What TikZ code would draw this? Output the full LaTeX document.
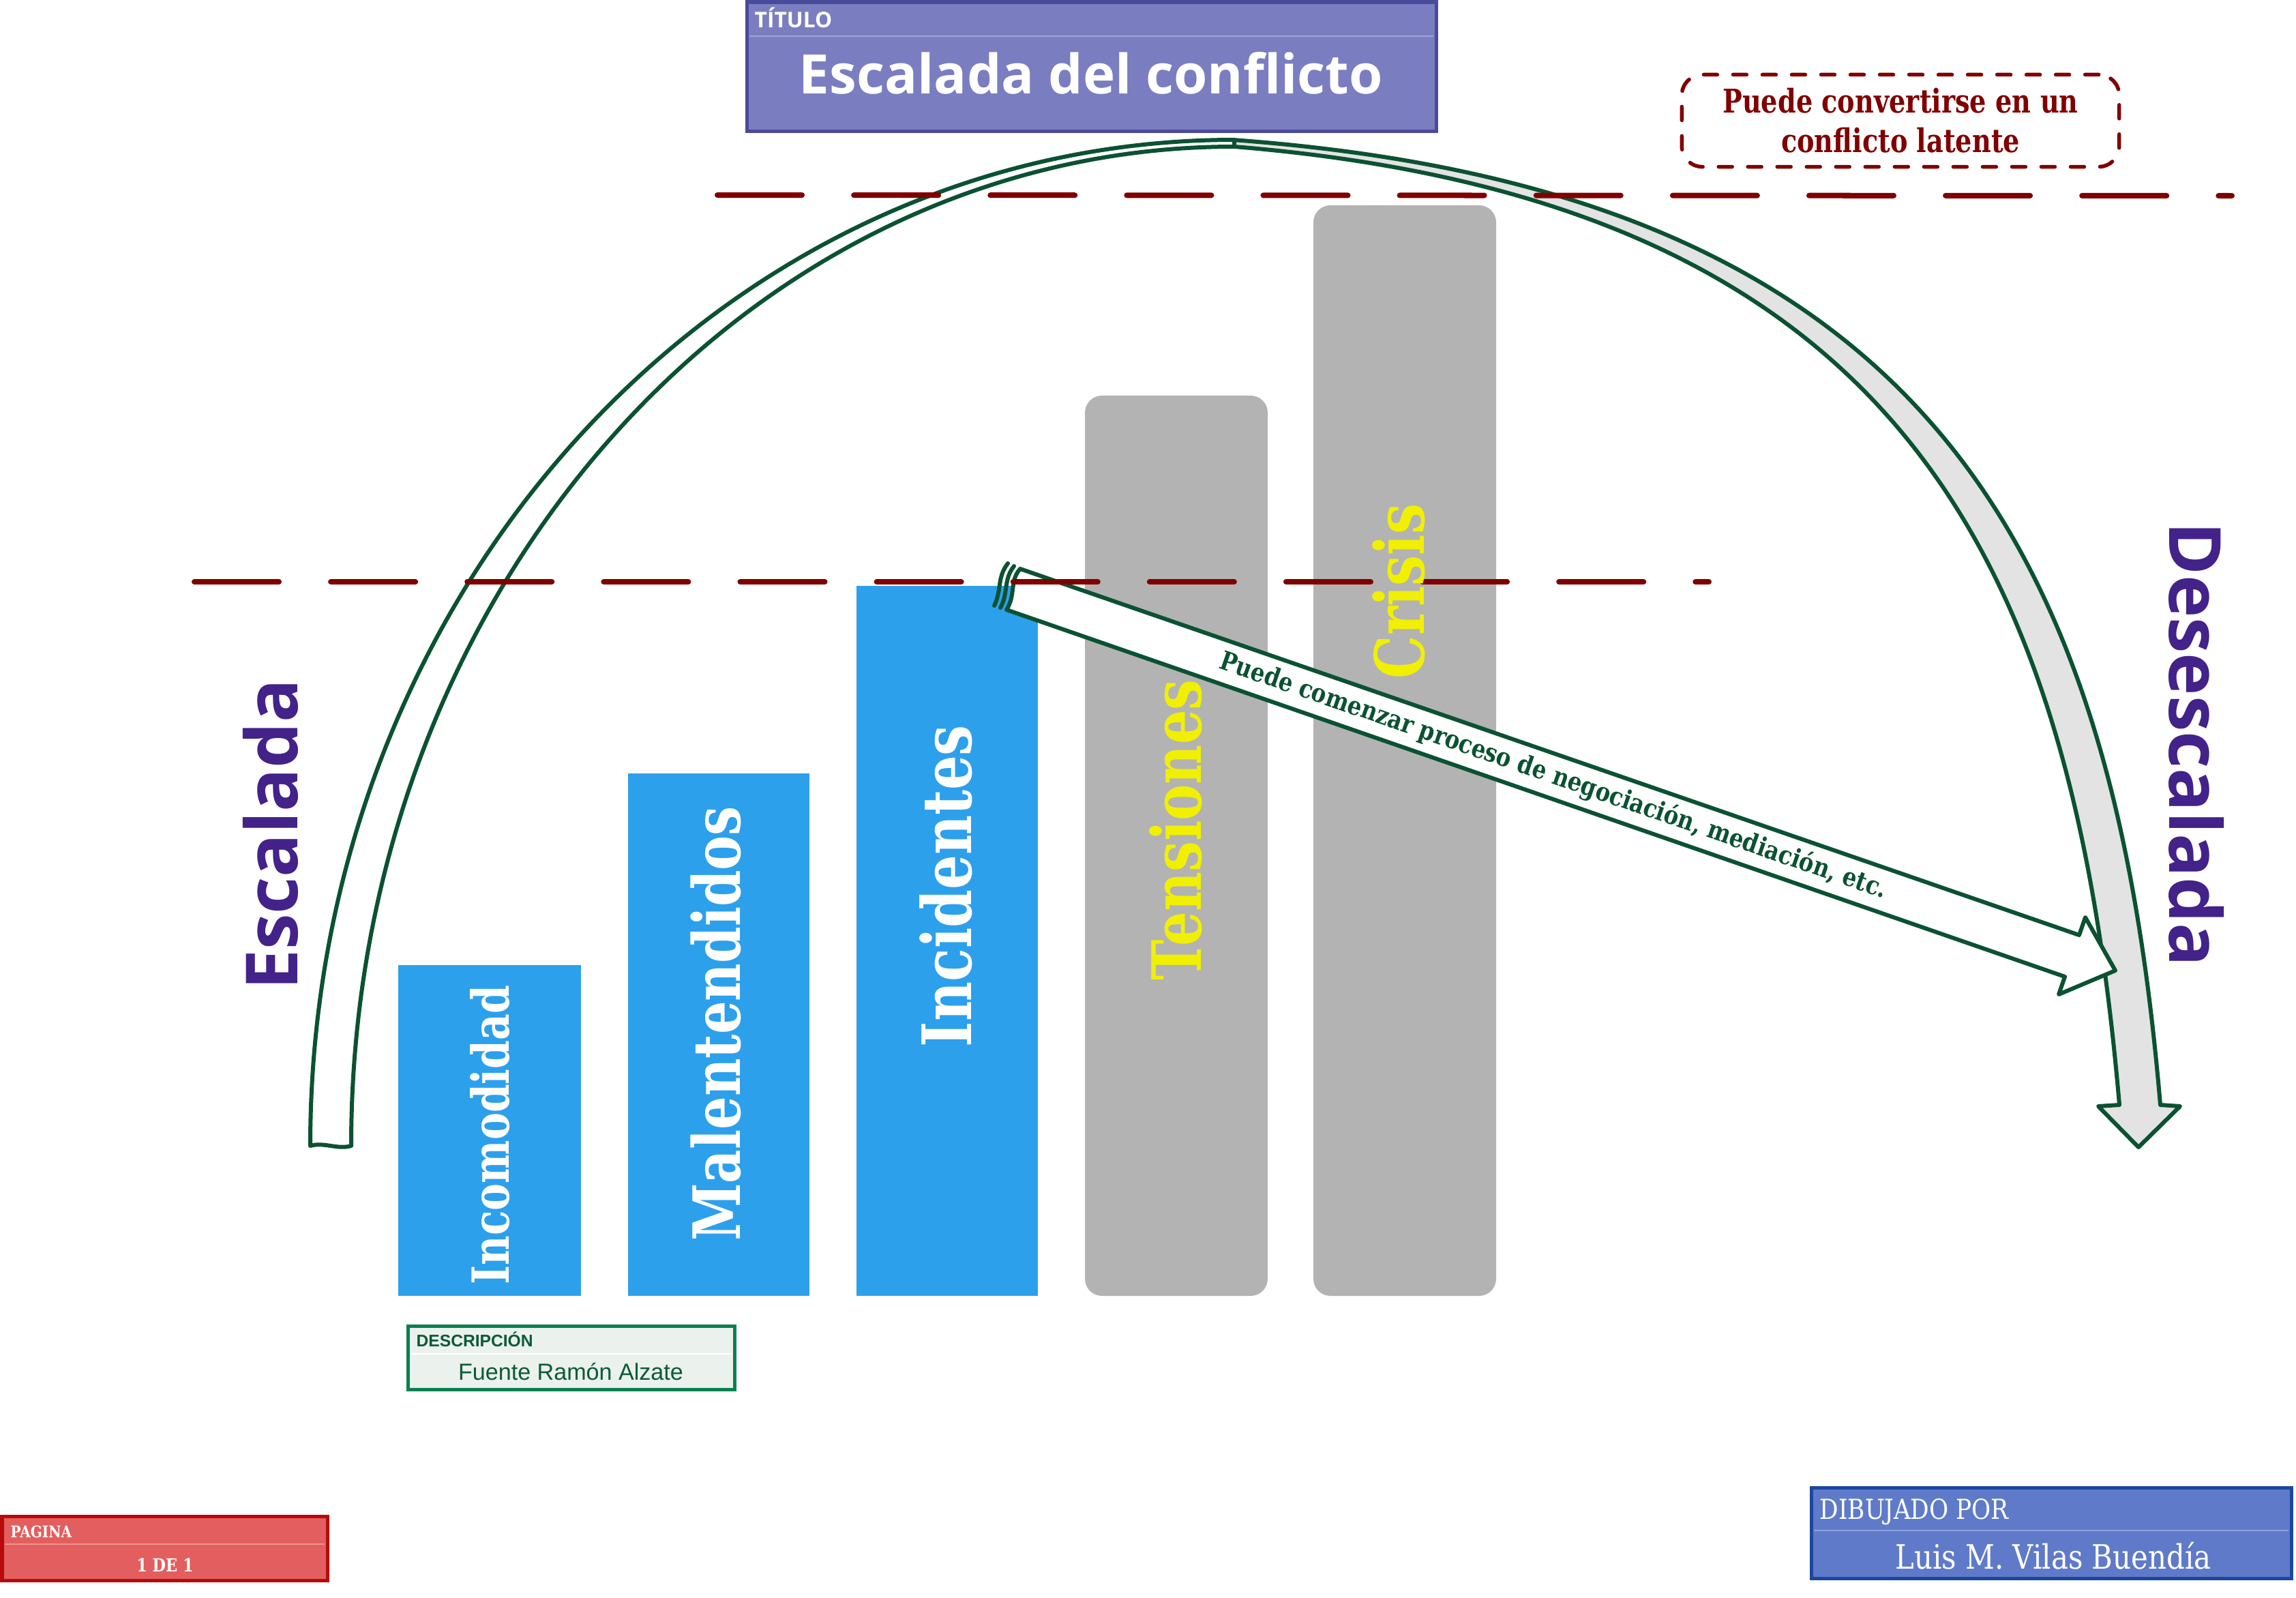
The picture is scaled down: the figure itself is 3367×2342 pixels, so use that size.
\documentclass[tikz,border=0pt]{standalone}
\usepackage{fontspec}
\setmainfont{DejaVu Serif}
\newfontfamily\osans{Open Sans}
\newfontfamily\slab{DejaVu Serif}
\newfontfamily\slabc[FakeStretch=0.85]{DejaVu Serif}
\newfontfamily\slabn[FakeStretch=0.8]{DejaVu Serif}
\newfontfamily\lsans{Liberation Sans}
\definecolor{cBlue}{HTML}{2DA0EC}
\definecolor{cGray}{HTML}{B3B3B3}
\definecolor{cLgray}{HTML}{E3E3E3}
\definecolor{cGreen}{HTML}{0B5232}
\definecolor{cRed}{HTML}{800000}
\definecolor{cYellow}{HTML}{F0F000}
\definecolor{cPurple}{HTML}{43228A}
\definecolor{cTitle}{HTML}{7A7EC0}
\definecolor{cTitleB}{HTML}{4A4A9A}
\definecolor{cTitleL}{HTML}{A0A4D6}
\definecolor{cDraw}{HTML}{5F7AC9}
\definecolor{cDrawB}{HTML}{1A47A0}
\definecolor{cDrawL}{HTML}{8FA2DC}
\definecolor{cPag}{HTML}{E35E5E}
\definecolor{cPagB}{HTML}{B80A0A}
\definecolor{cPagL}{HTML}{EE9090}
\definecolor{cDesc}{HTML}{EBF1EC}
\definecolor{cDescB}{HTML}{0B8050}
\definecolor{cDescT}{HTML}{0B5A38}
\tikzset{
  bluebar/.style={fill=cBlue},
  graybar/.style={fill=cGray, rounded corners=0.25cm},
  greenline/.style={draw=cGreen, line width=0.06cm, line join=round, line cap=round},
  reddash/.style={draw=cRed, line width=0.08cm, line cap=round, dash pattern=on 1.24cm off 0.76cm},
  barlabel/.style={rotate=90, inner sep=0},
  headtext/.style={inner sep=0, text=white},
}
\begin{document}
\begin{tikzpicture}[x=0.01cm,y=-0.01cm]
\useasboundingbox (0,0) rectangle (3367,2342);
\fill[white] (0,0) rectangle (3367,2342);

% bars
\fill[bluebar] (584,1415) rectangle (852,1900);
\fill[bluebar] (921,1134) rectangle (1187,1900);
\fill[bluebar] (1256,859) rectangle (1522,1900);
\fill[graybar] (1591,580) rectangle (1859,1900);
\fill[graybar] (1926,301) rectangle (2194,1900);

% de-escalation band (grey)
\filldraw[fill=cLgray, greenline] (1807,205) .. controls (2840,280) and (3100,820) .. (3168,1620)
  -- (3197,1622) -- (3136,1682) -- (3077,1622) -- (3108,1620)
  .. controls (3040,835) and (2800,296) .. (1810,215) -- cycle;

% escalation band (white)
\filldraw[fill=white, greenline] (455,1680) arc[start angle=180, end angle=270, x radius=1355, y radius=1475]
  -- (1810,215) arc[start angle=270, end angle=180, x radius=1295, y radius=1465]
  .. controls (495,1686) and (475,1674) .. cycle;

% straight arrow
\filldraw[fill=white, greenline] (1496,834) -- (3049,1371) -- (3058,1345) -- (3102,1423)
  -- (3019,1458) -- (3028,1432) -- (1476,894)
  .. controls (1490,872) and (1480,852) .. cycle;
\draw[greenline] (1467,891) .. controls (1479,870) and (1471,850) .. (1487,830);
\draw[greenline] (1458,888) .. controls (1469,866) and (1462,846) .. (1478,826);

% dashed lines
\draw[reddash] (1052,286) -- (3273,287);
\draw[reddash] (285,853) -- (2506,853);

% bar labels
\node[barlabel, text=white, font=\slabn\bfseries\fontsize{21.3}{21}\selectfont] (incomodidad) at (719,1664) {Incomodidad};
\node[barlabel, text=white, font=\slabn\bfseries\fontsize{27.2}{27}\selectfont] (malentendidos) at (1050,1501) {Malentendidos};
\node[barlabel, text=white, font=\slabn\bfseries\fontsize{28.4}{28}\selectfont] (incidentes) at (1387,1299) {Incidentes};
\node[barlabel, text=cYellow, font=\slabn\bfseries\fontsize{28.4}{28}\selectfont] (tensiones) at (1724,1217) {Tensiones};
\node[barlabel, text=cYellow, font=\slabn\bfseries\fontsize{28.4}{28}\selectfont] (crisis) at (2051,867) {Crisis};

% side labels
\node[rotate=90, inner sep=0, text=cPurple, font=\osans\bfseries\fontsize{30}{30}\selectfont] (escalada) at (397,1224) {Escalada};
\node[rotate=-90, inner sep=0, text=cPurple, font=\osans\bfseries\fontsize{30}{30}\selectfont] (desescalada) at (3221,1091) {Desescalada};

% arrow text
\node[rotate=-19.1, inner sep=0, text=cGreen, font=\slabc\bfseries\fontsize{10.8}{10}\selectfont] (negociacion) at (2278,1138) {Puede comenzar proceso de negociación, mediación, etc.};

% latent box
\node[draw=cRed, line width=0.055cm, dash pattern=on 0.2cm off 0.23cm, line cap=round, rounded corners=0.3cm,
  minimum width=6.41cm, minimum height=1.35cm, align=center, text=cRed,
  font=\slabn\bfseries\fontsize{13.6}{16.5}\selectfont] (latent) at (2787,177) {Puede convertirse en un\\conflicto latente};

% title box
\filldraw[fill=cTitle, draw=cTitleB, line width=0.05cm] (1095,3) rectangle (2106,192);
\draw[cTitleL, line width=0.012cm] (1099,53) -- (2102,53);
\node[headtext, anchor=base west, font=\osans\bfseries\fontsize{9}{10}\selectfont] (titlehead) at (1106,40) {TÍTULO};
\node[headtext, anchor=base, font=\osans\bfseries\fontsize{22.7}{27}\selectfont] (title) at (1600,137) {Escalada del conflicto};

% description box
\filldraw[fill=cDesc, draw=cDescB, line width=0.05cm] (598,1944) rectangle (1077,2037);
\draw[white, line width=0.012cm] (602,1985) -- (1073,1985);
\node[inner sep=0, anchor=base west, text=cDescT, font=\lsans\bfseries\fontsize{7}{8}\selectfont] (deschead) at (610,1974) {DESCRIPCIÓN};
\node[inner sep=0, anchor=base, text=cDescT, font=\lsans\fontsize{9.7}{11}\selectfont] (desc) at (837,2023) {Fuente Ramón Alzate};

% page box
\filldraw[fill=cPag, draw=cPagB, line width=0.05cm] (3,2223) rectangle (480,2317);
\draw[cPagL, line width=0.012cm] (7,2264) -- (476,2264);
\node[headtext, anchor=base west, font=\slabc\bfseries\fontsize{6.7}{8}\selectfont] (paghead) at (15,2254) {PAGINA};
\node[headtext, anchor=base, font=\slabc\bfseries\fontsize{7.5}{9}\selectfont] (pag) at (242,2304) {1 DE 1};

% drawn-by box
\filldraw[fill=cDraw, draw=cDrawB, line width=0.05cm] (2656,2181) rectangle (3360,2314);
\draw[cDrawL, line width=0.012cm] (2660,2244) -- (3356,2244);
\node[headtext, anchor=base west, font=\slabc\fontsize{11.5}{12}\selectfont] (drawhead) at (2668,2227) {DIBUJADO POR};
\node[headtext, anchor=base, font=\slabc\fontsize{14}{14}\selectfont] (author) at (3011,2300) {Luis M. Vilas Buendía};
\end{tikzpicture}
\end{document}
